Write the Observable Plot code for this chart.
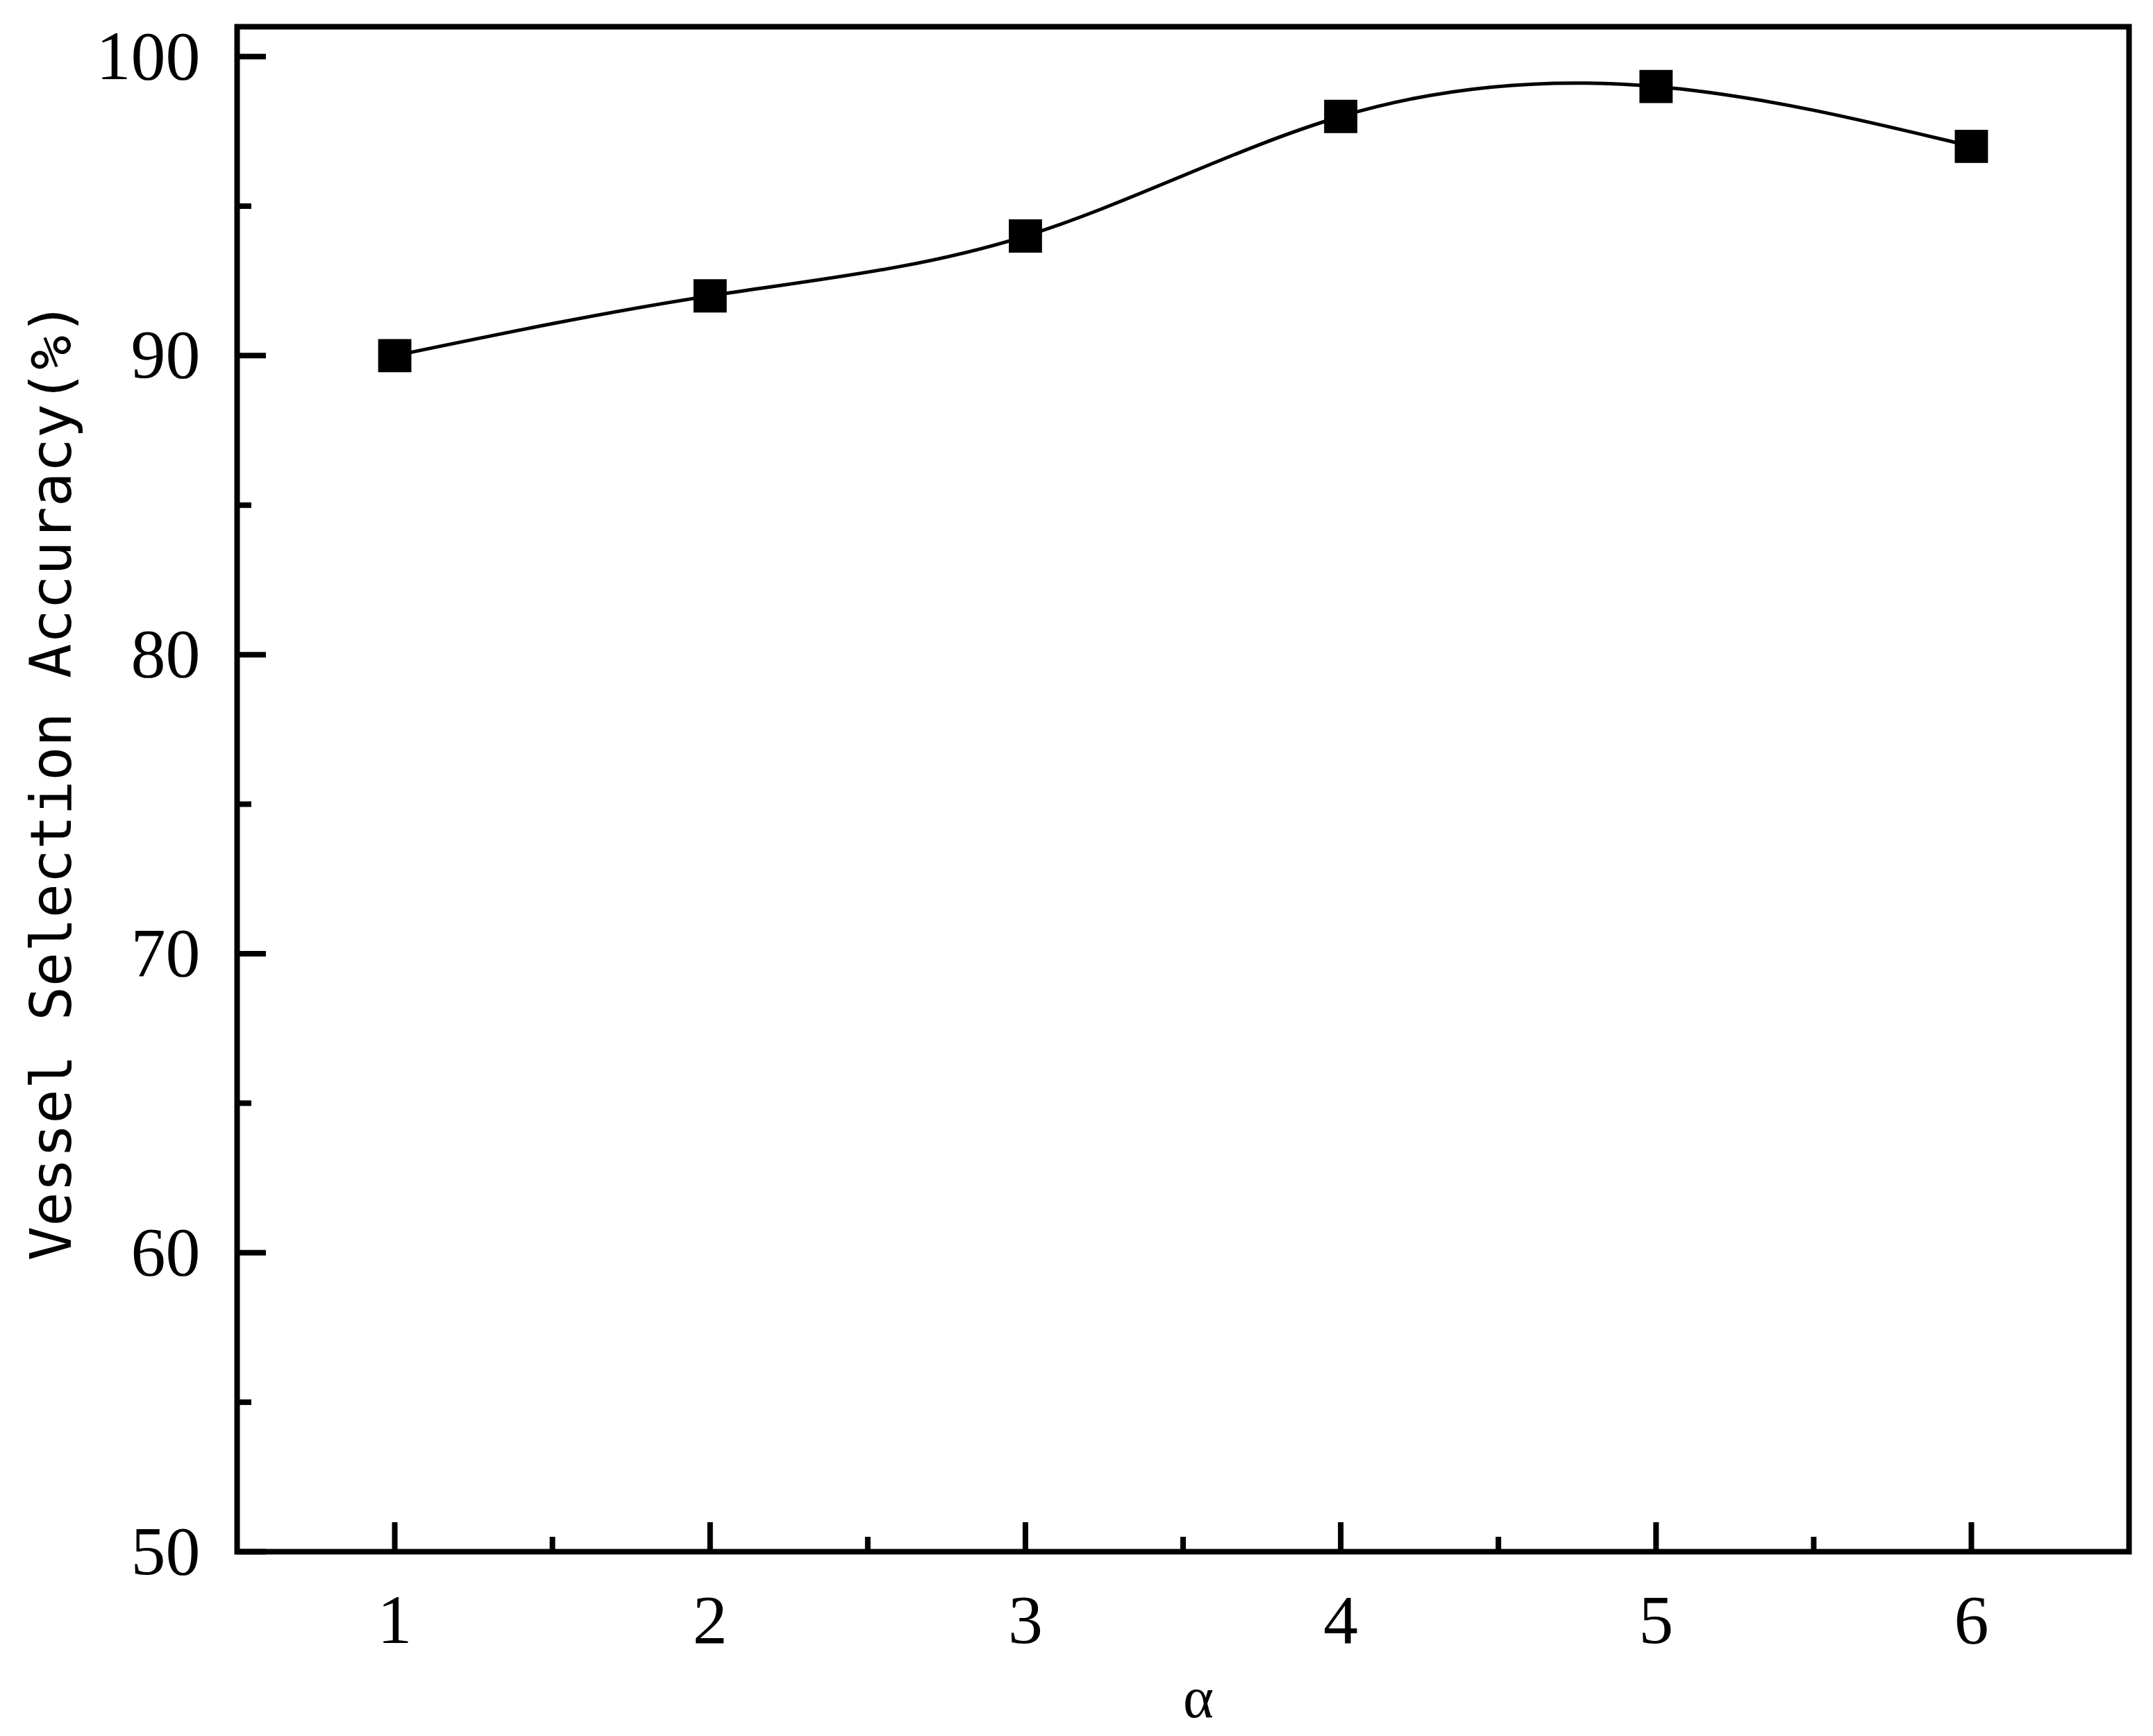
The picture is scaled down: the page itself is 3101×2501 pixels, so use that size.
<!DOCTYPE html>
<html>
<head>
<meta charset="utf-8">
<script src="https://cdn.jsdelivr.net/npm/d3@7"></script>
<script src="https://cdn.jsdelivr.net/npm/@observablehq/plot@0.6"></script>
<style>
  html, body { margin: 0; padding: 0; background: white; }
  #chart svg { display: block; }
</style>
</head>
<body>
<div id="chart"></div>
<script>
// Data
const alpha = [1, 2, 3, 4, 5, 6];
const accuracy = [90, 92, 94, 98, 99, 97];
const yMajorTicks = [50, 60, 70, 80, 90, 100];
const yMinorTicks = [55, 65, 75, 85, 95];
const xMajorTicks = [1, 2, 3, 4, 5, 6];
const xMinorTicks = [1.5, 2.5, 3.5, 4.5, 5.5];
const xLabel = "α";
const yLabel = "Vessel Selection Accuracy(%)";

const data = alpha.map((a, i) => ({alpha: a, accuracy: accuracy[i]}));

const chart = Plot.plot({
  width: 3101,
  height: 2501,
  marginLeft: 341,
  marginRight: 35,
  marginTop: 38,
  marginBottom: 266,
  x: {domain: [0.5, 6.5]},
  y: {domain: [50, 101]},
  style: {fontFamily: "'Liberation Serif', serif", fontSize: "100px", color: "black", background: "white"},
  marks: [
    Plot.axisY(yMajorTicks, {tickSize: -42, tickPadding: 95, strokeWidth: 8, fontSize: 100, label: null, tickFormat: d => String(d)}),
    Plot.axisY(yMinorTicks, {tickSize: -21, strokeWidth: 8, text: null, label: null}),
    Plot.axisX(xMajorTicks, {tickSize: -42, tickPadding: 102, strokeWidth: 8, fontSize: 100, label: null, tickFormat: d => String(d)}),
    Plot.axisX(xMinorTicks, {tickSize: -21, strokeWidth: 8, text: null, label: null}),
    Plot.frame({stroke: "black", strokeWidth: 8}),
    Plot.line(data, {x: "alpha", y: "accuracy", curve: "natural", stroke: "black", strokeWidth: 5}),
    Plot.dot(data, {x: "alpha", y: "accuracy", symbol: "square", r: 27, fill: "black", stroke: null}),
    Plot.text([xLabel], {frameAnchor: "bottom", dx: 22, dy: 212, fontSize: 84, fontFamily: "'Liberation Serif', serif", lineAnchor: "middle", fill: "black"}),
    Plot.text([yLabel], {frameAnchor: "left", textAnchor: "middle", rotate: -90, dx: -266, dy: -12, fontSize: 82, fontFamily: "'DejaVu Sans Mono', monospace", lineAnchor: "middle", fill: "black"})
  ]
});

document.getElementById("chart").appendChild(chart);
</script>
</body>
</html>
